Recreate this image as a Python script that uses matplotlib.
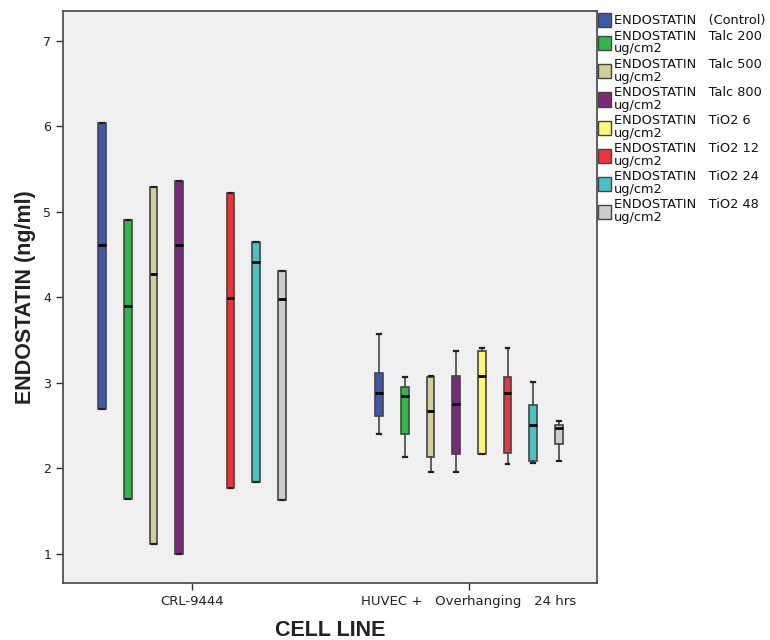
import matplotlib
matplotlib.use("Agg")
import matplotlib.pyplot as plt
from matplotlib.patches import Patch
import numpy as np

groups = ["CRL-9444", "HUVEC +   Overhanging   24 hrs"]
series = ["ENDOSTATIN   (Control)", "ENDOSTATIN   Talc 200\nug/cm2", "ENDOSTATIN   Talc 500\nug/cm2",
          "ENDOSTATIN   Talc 800\nug/cm2", "ENDOSTATIN   TiO2 6\nug/cm2", "ENDOSTATIN   TiO2 12\nug/cm2",
          "ENDOSTATIN   TiO2 24\nug/cm2", "ENDOSTATIN   TiO2 48\nug/cm2"]
colors = ["#3E58AC", "#2EB848", "#D3CE97", "#7C287D", "#FBF873", "#EF3338", "#48C2C5", "#CCCCCC"]

# CRL-9444 (box spans full range, no whiskers); NaN = no data
crl_low = [2.70, 1.64, 1.12, 1.00, np.nan, 1.77, 1.84, 1.63]
crl_med = [4.61, 3.90, 4.27, 4.61, np.nan, 3.99, 4.42, 3.98]
crl_high = [6.04, 4.91, 5.29, 5.36, np.nan, 5.22, 4.65, 4.31]

# HUVEC + Overhanging 24 hrs
huv_whislo = [2.40, 2.13, 1.96, 1.96, 2.17, 2.05, 2.06, 2.09]
huv_q1 = [2.61, 2.40, 2.13, 2.17, 2.17, 2.18, 2.09, 2.29]
huv_med = [2.88, 2.85, 2.67, 2.75, 3.08, 2.88, 2.51, 2.47]
huv_q3 = [3.12, 2.95, 3.07, 3.08, 3.37, 3.07, 2.74, 2.51]
huv_whishi = [3.57, 3.07, 3.08, 3.37, 3.41, 3.41, 3.01, 2.56]

yticks = [1, 2, 3, 4, 5, 6, 7]

fig = plt.figure(figsize=(7.7, 6.4), dpi=100)
ax = fig.add_axes([63/770, 57/640, 534/770, 572/640])
ax.set_facecolor("#F0F0F0")

spacing = 0.0926
width = 0.028
n = len(series)
offsets = (np.arange(n) - (n - 1) / 2) * spacing

for i in range(n):
    stats, pos = [], []
    if not np.isnan(crl_med[i]):
        stats.append(dict(med=crl_med[i], q1=crl_low[i], q3=crl_high[i],
                          whislo=crl_low[i], whishi=crl_high[i], fliers=[]))
        pos.append(0 + offsets[i])
    stats.append(dict(med=huv_med[i], q1=huv_q1[i], q3=huv_q3[i],
                      whislo=huv_whislo[i], whishi=huv_whishi[i], fliers=[]))
    pos.append(1 + offsets[i])
    ax.bxp(stats, positions=pos, widths=width, patch_artist=True, showfliers=False,
           capwidths=0.014,
           boxprops=dict(facecolor=colors[i], edgecolor="#444444", linewidth=1.2),
           medianprops=dict(color="black", linewidth=2.0),
           whiskerprops=dict(color="#444444", linewidth=1.2),
           capprops=dict(color="#222222", linewidth=1.6))

ax.set_xlim(-0.466, 1.462)
ax.set_ylim(0.66, 7.35)
ax.set_yticks(yticks)
ax.set_yticklabels([str(t) for t in yticks], fontsize=9, color="#222222")
ax.set_xticks([0, 1])
ax.set_xticklabels(groups, fontsize=9.5, color="#222222")
ax.tick_params(axis="both", direction="out", length=5, color="#333333", width=1)
for s in ax.spines.values():
    s.set_color("#444444")
    s.set_linewidth(1.2)

ax.set_ylabel("ENDOSTATIN (ng/ml)", fontsize=15.5, family="Liberation Sans", fontweight="bold",
              color="#222222", labelpad=5)
ax.set_xlabel("CELL LINE", fontsize=15.5, family="Liberation Sans", fontweight="bold",
              color="#222222", labelpad=9)

handles = [Patch(facecolor=c, edgecolor="#444444", linewidth=1.0) for c in colors]
leg = fig.legend(handles, series, loc="upper left", bbox_to_anchor=(598/770, 1 - 13/640),
                 frameon=False, fontsize=9.3, handlelength=1.0, handleheight=1.3,
                 handletextpad=0.2, labelspacing=0.2, borderaxespad=0, borderpad=0)
for t in leg.get_texts():
    t.set_linespacing(0.95)
    t.set_color("#111111")

fig.savefig("out.png", dpi=100, facecolor="white")
